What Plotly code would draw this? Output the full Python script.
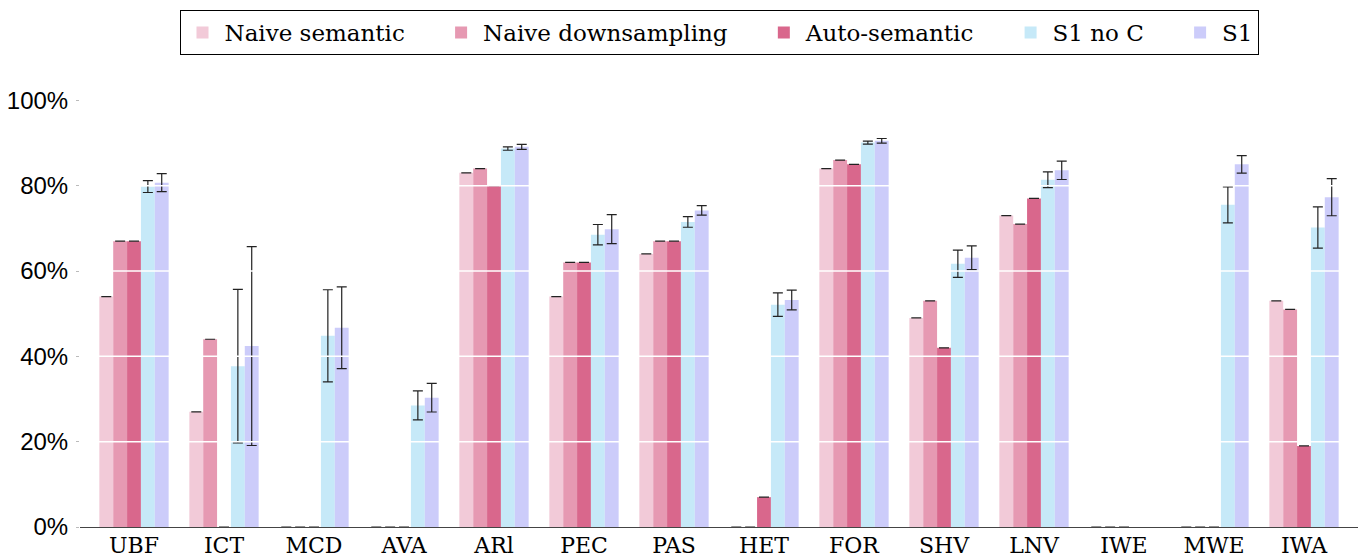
import plotly.graph_objects as go

categories = ["UBF", "ICT", "MCD", "AVA", "ARl", "PEC", "PAS", "HET", "FOR", "SHV", "LNV", "IWE", "MWE", "IWA"]

series_names = ["Naive semantic", "Naive downsampling", "Auto-semantic", "S1 no C", "S1"]

naive_semantic = [54, 27, 0, 0, 83, 54, 64, 0, 84, 49, 73, 0, 0, 53]
naive_downsampling = [67, 44, 0, 0, 84, 62, 67, 0, 86, 53, 71, 0, 0, 51]
auto_semantic = [67, 0, 0, 0, 80, 62, 67, 7, 85, 42, 77, 0, 0, 19]
s1_no_c = [79.8, 37.7, 44.8, 28.5, 88.7, 68.5, 71.5, 52.1, 90.1, 61.7, 81.4, None, 75.5, 70.2]
s1 = [80.7, 42.4, 46.7, 30.3, 89.1, 69.8, 74.2, 53.2, 90.5, 63.1, 83.6, None, 85.0, 77.3]

naive_semantic_err = [0] * 14
naive_downsampling_err = [0] * 14
auto_semantic_err = [0] * 14
s1_no_c_err = [1.4, 18.0, 10.8, 3.4, 0.4, 2.4, 1.25, 2.75, 0.35, 3.2, 1.85, None, 4.2, 4.85]
s1_err = [2.1, 23.3, 9.6, 3.35, 0.6, 3.4, 1.1, 2.3, 0.55, 2.8, 2.15, None, 2.05, 4.35]

colors = ["#F2CAD8", "#E699B2", "#D9678C", "#C6E9F8", "#CCCCFA"]

y_ticks = [0, 20, 40, 60, 80, 100]
y_tick_labels = ["0%", "20%", "40%", "60%", "80%", "100%"]

values = [naive_semantic, naive_downsampling, auto_semantic, s1_no_c, s1]
errors = [naive_semantic_err, naive_downsampling_err, auto_semantic_err, s1_no_c_err, s1_err]

NBSP = "\u00a0"

fig = go.Figure()
for i, (name, vals, errs, col) in enumerate(zip(series_names, values, errors, colors)):
    label = name + (NBSP * 4 if i < len(series_names) - 1 else "")
    fig.add_trace(go.Bar(
        name=label,
        x=categories,
        y=vals,
        marker=dict(color=col, line=dict(width=0)),
        error_y=dict(type="data", array=errs, visible=True,
                     color="#222222", thickness=1.2, width=5),
    ))

# white grid lines drawn over the bars
for t in y_ticks[1:]:
    fig.add_shape(type="line", xref="paper", x0=0, x1=1, yref="y", y0=t, y1=t,
                  line=dict(color="white", width=1.5), layer="above")

fig.update_layout(
    width=1362, height=559,
    barmode="group",
    bargap=0.23,
    bargroupgap=0,
    plot_bgcolor="white",
    paper_bgcolor="white",
    margin=dict(l=80, r=4, t=79, b=32, autoexpand=False),
    showlegend=True,
    legend=dict(
        orientation="h",
        x=0.5, xanchor="center",
        yref="container", y=1 - 10 / 559, yanchor="top",
        bordercolor="black", borderwidth=1,
        font=dict(family="DejaVu Serif", size=23, color="black"),
        itemwidth=34,
        tracegroupgap=0,
    ),
    xaxis=dict(
        range=[-0.6, 13.6],
        automargin=False,
        showgrid=False,
        showline=True, linecolor="#444444", linewidth=1.4,
        ticks="",
        ticklabelstandoff=-2,
        tickfont=dict(family="DejaVu Serif", size=22, color="black"),
    ),
    yaxis=dict(
        range=[0, 105],
        automargin=False,
        tickvals=y_ticks,
        ticktext=y_tick_labels,
        showgrid=False,
        zeroline=False,
        showline=False,
        ticks="outside", ticklen=3, tickcolor="#bbbbbb",
        ticklabelstandoff=3,
        tickfont=dict(family="Liberation Sans", size=24, color="black"),
    ),
)

fig.write_html(
    "out.html",
    config={"displayModeBar": False},
    post_script="document.body.style.margin='0';document.body.style.padding='0';",
)
